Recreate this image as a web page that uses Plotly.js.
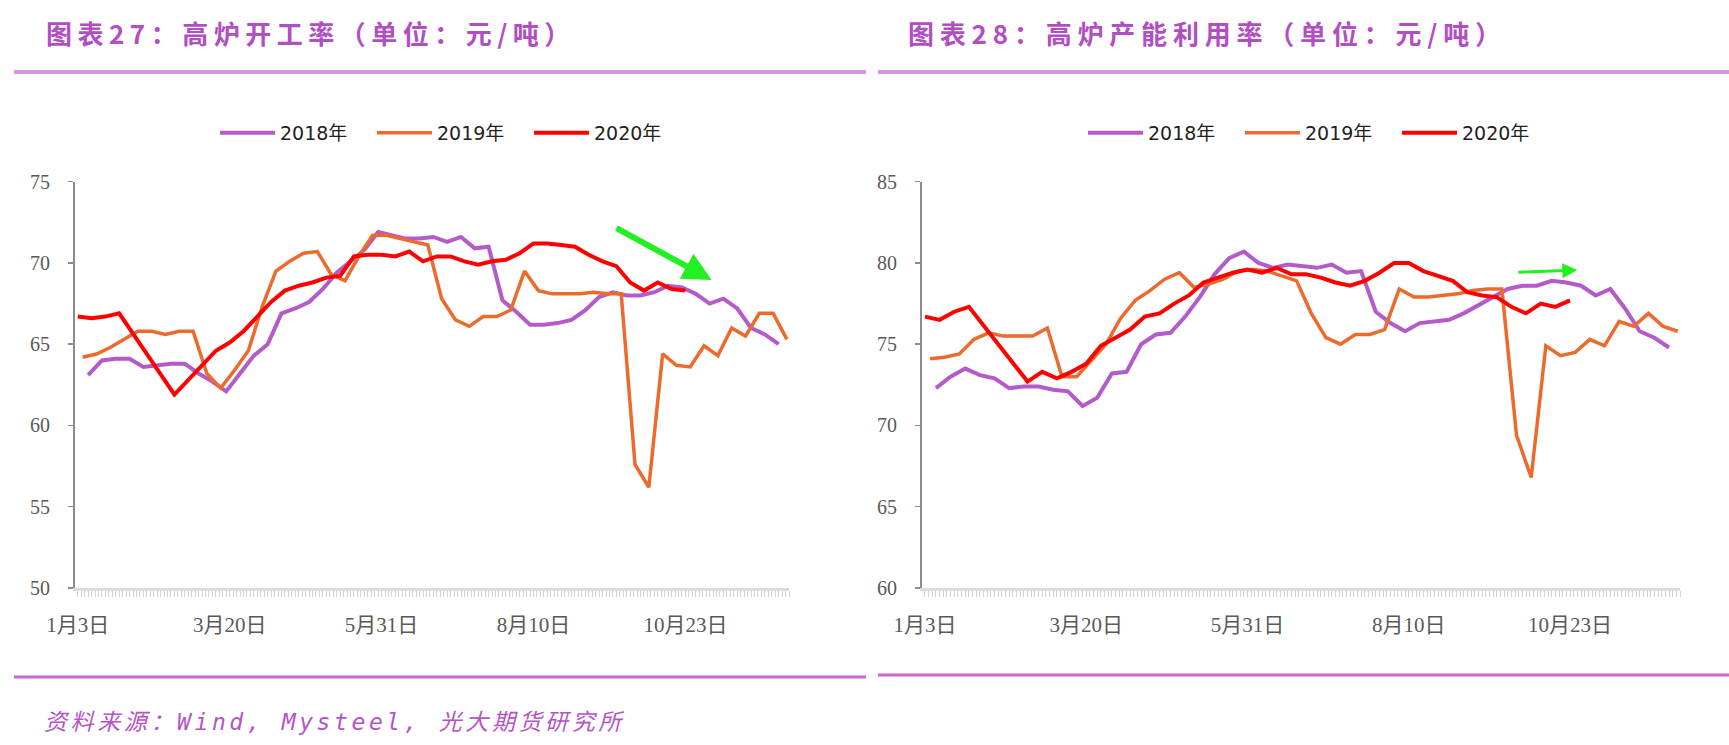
<!DOCTYPE html>
<html>
<head>
<meta charset="utf-8">
<script src="https://cdn.plot.ly/plotly-3.0.1.min.js"></script>
<style>
html, body { margin: 0; padding: 0; background: #ffffff; }
#chart { width: 1729px; height: 745px; }
</style>
</head>
<body>
<div id="chart"></div>
<script>
// ---------------- data ----------------
const tickLabels = ['1月3日', '3月20日', '5月31日', '8月10日', '10月23日'];
const tickWeeks = [0, 11, 22, 33, 44];
const seriesNames = ['2018年', '2019年', '2020年'];
// week alignment of each year's first observation (in weeks, relative to 2020's 1月3日)
const weekShift2018 = 0.75;
const weekShift2019 = 0.35;
const weekShift2020 = 0;

// 图表27 高炉开工率
const bfRate2018 = [63.1, 64.0, 64.1, 64.1, 63.6, 63.7, 63.8, 63.8, 63.2, 62.7,
  62.1, 63.2, 64.3, 65.0, 66.9, 67.2, 67.6, 68.4, 69.4, 70.1,
  70.8, 71.9, 71.7, 71.5, 71.5, 71.6, 71.3, 71.6, 70.9, 71.0,
  67.7, 67.0, 66.2, 66.2, 66.3, 66.5, 67.1, 67.9, 68.2, 68.0,
  68.0, 68.2, 68.6, 68.5, 68.1, 67.5, 67.8, 67.2, 66.0, 65.6, 65.0];
const bfRate2019 = [64.2, 64.4, 64.8, 65.3, 65.8, 65.8, 65.6, 65.8, 65.8, 63.2,
  62.3, 63.4, 64.6, 67.3, 69.5, 70.1, 70.6, 70.7, 69.3, 68.9,
  70.4, 71.7, 71.7, 71.5, 71.3, 71.1, 67.8, 66.5, 66.1, 66.7,
  66.7, 67.1, 69.5, 68.3, 68.1, 68.1, 68.1, 68.2, 68.1, 68.1,
  57.6, 56.2, 64.4, 63.7, 63.6, 64.9, 64.3, 66.0, 65.5, 66.9, 66.9, 65.3];
const bfRate2020 = [66.7, 66.6, 66.7, 66.9, null, null, null, 61.9, 62.8, 63.7,
  64.6, 65.1, 65.8, 66.7, 67.6, 68.3, 68.6, 68.8, 69.1, 69.2,
  70.4, 70.5, 70.5, 70.4, 70.7, 70.1, 70.4, 70.4, 70.1, 69.9,
  70.1, 70.2, 70.6, 71.2, 71.2, 71.1, 71.0, 70.5, 70.1, 69.8,
  68.8, 68.3, 68.8, 68.4, 68.3];

// 图表28 高炉产能利用率
const capUse2018 = [72.3, 73.0, 73.5, 73.1, 72.9, 72.3, 72.4, 72.4, 72.2, 72.1,
  71.2, 71.7, 73.2, 73.3, 75.0, 75.6, 75.7, 76.7, 77.9, 79.3,
  80.3, 80.7, 80.0, 79.7, 79.9, 79.8, 79.7, 79.9, 79.4, 79.5,
  77.0, 76.3, 75.8, 76.3, 76.4, 76.5, 76.9, 77.4, 77.9, 78.4,
  78.6, 78.6, 78.9, 78.8, 78.6, 78.0, 78.4, 77.2, 75.8, 75.4, 74.8];
const capUse2019 = [74.1, 74.2, 74.4, 75.3, 75.7, 75.5, 75.5, 75.5, 76.0, 73.0,
  73.0, 74.0, 75.0, 76.6, 77.7, 78.3, 79.0, 79.4, 78.5, 78.7,
  79.0, 79.5, 79.6, 79.5, 79.2, 78.9, 76.9, 75.4, 75.0, 75.6,
  75.6, 75.9, 78.4, 77.9, 77.9, 78.0, 78.1, 78.3, 78.4, 78.4,
  69.4, 66.8, 74.9, 74.3, 74.5, 75.3, 74.9, 76.4, 76.1, 76.9, 76.1, 75.8];
const capUse2020 = [76.7, 76.5, 77.0, 77.3, null, null, null, 72.7, 73.3, 72.9,
  73.3, 73.8, 74.9, 75.4, 75.9, 76.7, 76.9, 77.5, 78.0, 78.8,
  79.1, 79.4, 79.6, 79.4, 79.7, 79.3, 79.3, 79.1, 78.8, 78.6,
  78.9, 79.4, 80.0, 80.0, 79.5, 79.2, 78.9, 78.2, 78.0, 77.9,
  77.3, 76.9, 77.5, 77.3, 77.7];

// ---------------- styling ----------------
const W = 1729, H = 745;
const PX = v => v / W;
const PY = v => 1 - v / H;
const colors = ['#B35BC9', '#EC6A2B', '#FF0000'];
const weekPos = (arr, shift) => arr.map((_, k) => k + shift);

function makeTraces(d18, d19, d20, xa, ya, legendId) {
  const sets = [[d18, weekShift2018], [d19, weekShift2019], [d20, weekShift2020]];
  return sets.map((s, i) => ({
    type: 'scatter', mode: 'lines',
    x: weekPos(s[0], s[1]), y: s[0],
    name: seriesNames[i], xaxis: xa, yaxis: ya, legend: legendId,
    connectgaps: true,
    line: { color: colors[i], width: i === 1 ? 3.5 : 4 },
    hoverinfo: 'skip'
  }));
}

const traces = [
  ...makeTraces(bfRate2018, bfRate2019, bfRate2020, 'x', 'y', 'legend'),
  ...makeTraces(capUse2018, capUse2019, capUse2020, 'x2', 'y2', 'legend2')
];

const tickFontX = { family: 'Liberation Serif, Noto Sans CJK SC, serif', size: 21, color: '#595959' };
const tickFontY = { family: 'Liberation Serif, serif', size: 20, color: '#595959' };

function xAxis(domain, anchor) {
  return {
    domain: domain, anchor: anchor, range: [-0.2, 51.5],
    tickmode: 'array', tickvals: tickWeeks, ticktext: tickLabels,
    ticks: 'outside', ticklen: 6, tickwidth: 1, tickcolor: '#cfcfcf',
    minor: { tickmode: 'linear', tick0: 0, dtick: 0.25, ticks: 'outside', ticklen: 6, tickwidth: 1, tickcolor: '#d4d4d4' },
    showline: true, linecolor: '#dcdcdc', linewidth: 3,
    showgrid: false, zeroline: false, fixedrange: true,
    tickfont: tickFontX, ticklabelstandoff: 10
  };
}
function yAxis(range, anchor) {
  return {
    domain: [PY(588), PY(181.7)], anchor: anchor, range: range,
    tickmode: 'linear', tick0: range[0], dtick: 5,
    ticks: 'outside', ticklen: 5, tickwidth: 1.5, tickcolor: '#8c8c8c',
    showline: true, linecolor: '#8c8c8c', linewidth: 2,
    showgrid: false, zeroline: false, fixedrange: true,
    tickfont: tickFontY, ticklabelstandoff: 14
  };
}
const legendStyle = (xpx) => ({
  orientation: 'h', x: PX(xpx), xanchor: 'left', y: PY(133), yanchor: 'middle',
  font: { family: 'DejaVu Sans, Noto Sans CJK SC, sans-serif', size: 19, color: '#222222' },
  itemwidth: 55, entrywidth: 87, entrywidthmode: 'pixels',
  bgcolor: 'rgba(0,0,0,0)', borderwidth: 0, tracegroupgap: 0
});

const titleColor = '#B24EC4';
const annotations = [
  { xref: 'paper', yref: 'paper', x: PX(44), y: PY(33), xanchor: 'left', yanchor: 'middle', showarrow: false,
    text: '<span style="letter-spacing:5.5px">图表27：高炉开工率（单位：元/吨）</span>',
    font: { family: 'Noto Sans CJK SC, sans-serif', size: 26, color: titleColor, weight: 'bold' } },
  { xref: 'paper', yref: 'paper', x: PX(906), y: PY(33), xanchor: 'left', yanchor: 'middle', showarrow: false,
    text: '<span style="letter-spacing:5.8px">图表28：高炉产能利用率（单位：元/吨）</span>',
    font: { family: 'Noto Sans CJK SC, sans-serif', size: 26, color: titleColor, weight: 'bold' } },
  { xref: 'paper', yref: 'paper', x: PX(42), y: PY(722), xanchor: 'left', yanchor: 'middle', showarrow: false,
    text: '<span style="letter-spacing:3.6px">资料来源：Wind, Mysteel, 光大期货研究所</span>',
    font: { family: 'DejaVu Sans Mono, Noto Sans CJK SC, monospace', size: 23, color: '#B455C6', style: 'italic' } },
  // green trend arrows
  { xref: 'x', yref: 'y', axref: 'x', ayref: 'y', x: 45.9, y: 68.95, ax: 38.9, ay: 72.2,
    showarrow: true, arrowhead: 2, arrowsize: 0.95, arrowwidth: 6, arrowcolor: '#22F022', text: '' },
  { xref: 'x2', yref: 'y2', axref: 'x2', ayref: 'y2', x: 44.5, y: 79.56, ax: 40.37, ay: 79.42,
    showarrow: true, arrowhead: 2, arrowsize: 1, arrowwidth: 3, arrowcolor: '#22F022', text: '' }
];

const lineShape = (x0, x1, y, color, w) => ({
  type: 'line', xref: 'paper', yref: 'paper', x0: PX(x0), x1: PX(x1), y0: PY(y), y1: PY(y),
  line: { color: color, width: w }
});
const shapes = [
  lineShape(14, 866, 72, '#D493DE', 4),
  lineShape(878, 1729, 72, '#D493DE', 4),
  lineShape(14, 866, 677, '#C865D4', 3),
  lineShape(878, 1729, 675, '#C865D4', 3)
];

const layout = {
  width: W, height: H,
  margin: { l: 0, r: 0, t: 0, b: 0 },
  paper_bgcolor: '#ffffff', plot_bgcolor: '#ffffff',
  showlegend: true,
  xaxis: xAxis([PX(75), PX(789)], 'y'),
  yaxis: yAxis([50, 75], 'x'),
  xaxis2: xAxis([PX(922), PX(1680)], 'y2'),
  yaxis2: yAxis([60, 85], 'x2'),
  legend: legendStyle(215),
  legend2: legendStyle(1083),
  annotations: annotations,
  shapes: shapes
};

Plotly.newPlot('chart', traces, layout, { staticPlot: true, displayModeBar: false });
</script>
</body>
</html>
